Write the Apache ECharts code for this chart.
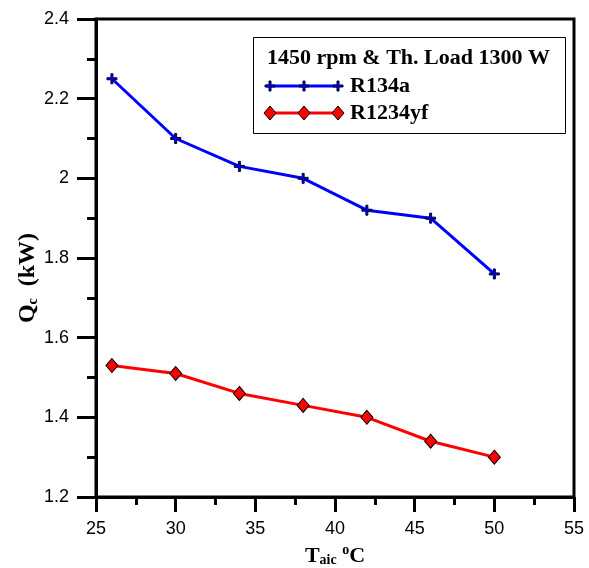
<!DOCTYPE html>
<html><head><meta charset="utf-8">
<script src="https://cdn.jsdelivr.net/npm/echarts@6/dist/echarts.min.js"></script>
<style>html,body{margin:0;padding:0;background:#fff}#c{width:589px;height:568px}</style>
</head><body><div id="c"></div>
<script>
const temps = [26, 30, 34, 38, 42, 46, 50];
const r134a = [2.25, 2.10, 2.03, 2.00, 1.92, 1.90, 1.76];
const r1234yf = [1.53, 1.51, 1.46, 1.43, 1.40, 1.34, 1.30];
const seriesNames = ['R134a', 'R1234yf'];
const legendTitle = '1450 rpm & Th. Load 1300 W';

const plus = 'path://M4,0 L6,0 L6,4 L10,4 L10,6 L6,6 L6,10 L4,10 L4,6 L0,6 L0,4 L4,4 Z';
const chart = echarts.init(document.getElementById('c'));
const tickFont = {fontFamily: 'Liberation Sans', fontSize: 18, color: '#000'};
const serif = 'Liberation Serif';

// legend drawn as graphics (line + three markers + label)
const legendItems = [
  {y: 86, color: '#0000ff', stroke: '#000033', kind: 'plus'},
  {y: 113, color: '#ff0000', stroke: '#000000', kind: 'diamond'}
];
const legendGraphics = [
  {type: 'rect', left: 253, top: 37, shape: {width: 312, height: 96}, style: {fill: '#fff', stroke: '#000', lineWidth: 1}, z: 10},
  {type: 'text', x: 267, y: 58, style: {text: legendTitle, font: 'bold 22px "Liberation Serif"', fill: '#000', textVerticalAlign: 'middle'}, z: 11}
];
legendItems.forEach((it, k) => {
  legendGraphics.push({type: 'line', shape: {x1: 266, y1: it.y, x2: 338, y2: it.y}, style: {stroke: it.color, lineWidth: 3}, z: 11});
  [270, 304, 338].forEach(x => {
    if (it.kind === 'plus') {
      legendGraphics.push({type: 'polygon', x: x, y: it.y, shape: {points: [[-1,-5],[1,-5],[1,-1],[5,-1],[5,1],[1,1],[1,5],[-1,5],[-1,1],[-5,1],[-5,-1],[-1,-1]]}, style: {fill: it.color, stroke: it.stroke, lineWidth: 1}, z: 12});
    } else {
      legendGraphics.push({type: 'polygon', x: x, y: it.y, shape: {points: [[0,-7],[6,0],[0,7],[-6,0]]}, style: {fill: it.color, stroke: it.stroke, lineWidth: 1}, z: 12});
    }
  });
  legendGraphics.push({type: 'text', x: 350, y: it.y, style: {text: seriesNames[k], font: 'bold 22px "Liberation Serif"', fill: '#000', textVerticalAlign: 'middle'}, z: 11});
});

chart.setOption({
  animation: false,
  grid: {left: 96, right: 15, top: 19, bottom: 71, outerBoundsMode: 'none', containLabel: false, show: true, borderColor: '#000', borderWidth: 3, backgroundColor: 'transparent'},
  xAxis: {
    type: 'value', min: 25, max: 55, interval: 5,
    axisLine: {lineStyle: {color: '#000', width: 3}},
    axisTick: {inside: false, length: 15, lineStyle: {width: 3, color: '#000'}},
    minorTick: {show: true, splitNumber: 2, length: 8, lineStyle: {width: 3, color: '#000'}},
    splitLine: {show: false},
    axisLabel: Object.assign({margin: 23}, tickFont),
    name: '{b|T}{s|aic}{b| }{p|o}{b|C}',
    nameLocation: 'middle', nameGap: 43,
    nameTextStyle: {rich: {
      b: {fontFamily: serif, fontWeight: 'bold', fontSize: 22, color: '#000', verticalAlign: 'bottom'},
      s: {fontFamily: serif, fontWeight: 'bold', fontSize: 14, color: '#000', padding: [10, 0, 0, 0], verticalAlign: 'bottom'},
      p: {fontFamily: serif, fontWeight: 'bold', fontSize: 14, color: '#000', padding: [0, 0, 10, 0], verticalAlign: 'bottom'}
    }}
  },
  yAxis: {
    type: 'value', min: 1.2, max: 2.4, interval: 0.2,
    axisLine: {lineStyle: {color: '#000', width: 3}},
    axisTick: {inside: false, length: 19, lineStyle: {width: 3, color: '#000'}},
    minorTick: {show: true, splitNumber: 2, length: 9, lineStyle: {width: 3, color: '#000'}},
    splitLine: {show: false},
    axisLabel: Object.assign({margin: 27, formatter: v => String(+v.toFixed(1))}, tickFont),
    name: '{b|Q}{s|c}{b|  (kW)}',
    nameLocation: 'middle', nameGap: 56, nameRotate: 90, nameMoveOverlap: false,
    nameTextStyle: {padding: [0, 40, 0, 0], rich: {
      b: {fontFamily: serif, fontWeight: 'bold', fontSize: 24, color: '#000', verticalAlign: 'bottom'},
      s: {fontFamily: serif, fontWeight: 'bold', fontSize: 14, color: '#000', padding: [10, 0, 0, 0], verticalAlign: 'bottom'}
    }}
  },
  graphic: legendGraphics,
  series: [
    {name: seriesNames[0], type: 'line', data: temps.map((t, i) => [t, r134a[i]]),
     lineStyle: {color: '#0000ff', width: 3}, itemStyle: {color: '#0000ff', borderColor: '#000033', borderWidth: 1},
     symbol: plus, symbolSize: 10, z: 5},
    {name: seriesNames[1], type: 'line', data: temps.map((t, i) => [t, r1234yf[i]]),
     lineStyle: {color: '#ff0000', width: 3}, itemStyle: {color: '#ff0000', borderColor: '#000', borderWidth: 1},
     symbol: 'diamond', symbolSize: [12, 14], z: 5}
  ]
});
</script></body></html>
